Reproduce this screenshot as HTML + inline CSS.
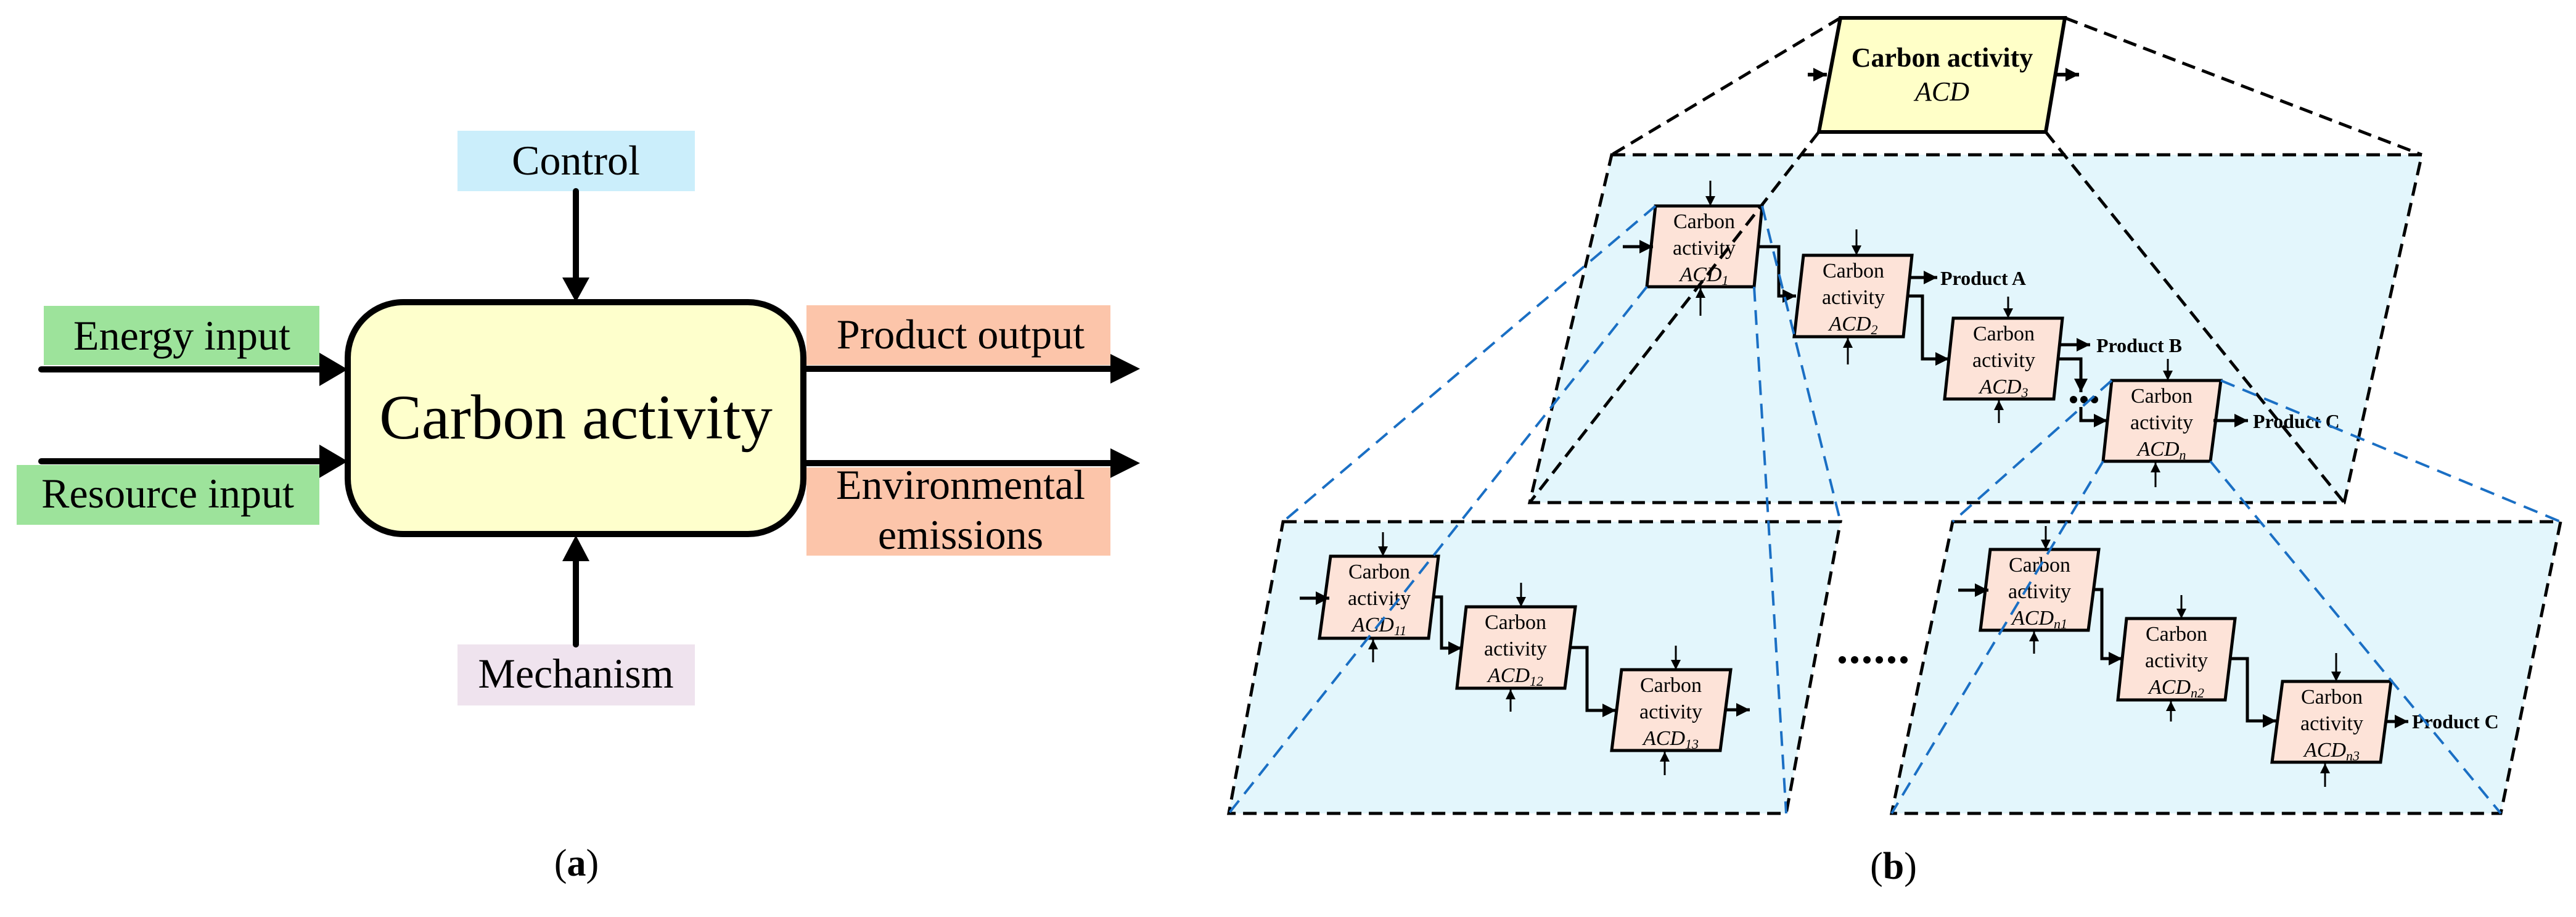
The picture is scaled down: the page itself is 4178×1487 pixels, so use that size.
<!DOCTYPE html>
<html><head><meta charset="utf-8"><style>html,body{margin:0;padding:0;background:#fff}svg{display:block}</style></head>
<body>
<svg width="4178" height="1487" viewBox="0 0 4178 1487" xmlns="http://www.w3.org/2000/svg" font-family="'Liberation Serif', serif">
<defs>
<marker id="s" viewBox="0 0 10 10" refX="10" refY="5" markerWidth="20" markerHeight="16" markerUnits="userSpaceOnUse" orient="auto"><path d="M0,0L10,5L0,10z" fill="#000"/></marker>
<marker id="b" viewBox="0 0 10 10" refX="10" refY="5" markerWidth="22" markerHeight="28" markerUnits="userSpaceOnUse" orient="auto"><path d="M0,0L10,5L0,10z" fill="#000"/></marker>
</defs>

<!-- Panel (a) -->
<rect x="742" y="212" width="385" height="98" fill="#cbeefb"/>
<text x="934" y="283" font-size="68" text-anchor="middle">Control</text>
<rect x="71" y="496" width="447" height="96" fill="#9de39b"/>
<text x="295" y="567" font-size="68" text-anchor="middle">Energy input</text>
<rect x="27" y="754" width="491" height="97" fill="#9de39b"/>
<text x="272" y="823" font-size="68" text-anchor="middle">Resource input</text>
<rect x="1308" y="495" width="493" height="97" fill="#fcc5aa"/>
<text x="1558" y="565" font-size="68" text-anchor="middle">Product output</text>
<rect x="1308" y="758" width="493" height="143" fill="#fcc5aa"/>
<text x="1558" y="809" font-size="68" text-anchor="middle">Environmental</text>
<text x="1558" y="890" font-size="68" text-anchor="middle">emissions</text>
<rect x="742" y="1045" width="385" height="99" fill="#efe3ee"/>
<text x="934" y="1115" font-size="68" text-anchor="middle">Mechanism</text>
<rect x="564" y="490" width="739" height="376" rx="90" ry="90" fill="#feffcc" stroke="#000" stroke-width="10"/>
<text x="934" y="711" font-size="103" text-anchor="middle">Carbon activity</text>
<g stroke="#000" stroke-width="10" stroke-linecap="round">
<line x1="67" y1="599" x2="522" y2="599"/>
<line x1="67" y1="748" x2="522" y2="748"/>
<line x1="1303" y1="598" x2="1805" y2="598"/>
<line x1="1303" y1="751" x2="1805" y2="751"/>
<line x1="934" y1="310" x2="934" y2="450"/>
<line x1="934" y1="910" x2="934" y2="1045"/>
</g>
<g fill="#000">
<path d="M518,572L518,626L564,599z"/>
<path d="M518,721L518,775L564,748z"/>
<path d="M1801,574L1801,622L1849,598z"/>
<path d="M1801,727L1801,775L1849,751z"/>
<path d="M912,450L956,450L934,490z"/>
<path d="M912,910L956,910L934,868z"/>
</g>
<text x="935" y="1420" font-size="62" text-anchor="middle">(<tspan font-weight="bold">a</tspan>)</text>

<!-- Panel (b) -->
<g stroke="#000" stroke-width="5" stroke-dasharray="22,12">
<polygon points="2614,251 3928,251 3802,815 2481,815" fill="#e3f6fc"/>
<polygon points="2081,846 2985,846 2897,1319 1993,1319" fill="#e3f6fc"/>
<polygon points="3167,846 4153,846 4056,1319 3068,1319" fill="#e3f6fc"/>
</g>

<!-- top ACD -->
<polygon points="2985,29 3349,29 3318,214 2950,214" fill="#ffffc8" stroke="#000" stroke-width="6"/>
<text x="3150" y="108" font-size="44" font-weight="bold" text-anchor="middle">Carbon activity</text>
<text x="3150" y="163" font-size="44" font-style="italic" text-anchor="middle">ACD</text>
<g stroke="#000" stroke-width="6" fill="none" marker-end="url(#b)">
<line x1="2932" y1="121" x2="2963" y2="121"/>
<line x1="3333" y1="121" x2="3372" y2="121"/>
</g>

<!-- blocks -->
<g fill="#fde3d8" stroke="#000" stroke-width="5">
<polygon points="2685,334 2858,334 2845,465 2671,465"/>
<polygon points="2925,414 3101,414 3087,546 2910,546"/>
<polygon points="3168,516 3345,516 3331,647 3154,647"/>
<polygon points="3425,617 3602,617 3585,748 3411,748"/>
<polygon points="2158,902 2333,902 2317,1035 2140,1035"/>
<polygon points="2378,984 2555,984 2538,1116 2363,1116"/>
<polygon points="2630,1086 2807,1086 2790,1217 2614,1217"/>
<polygon points="3228,891 3404,891 3387,1022 3212,1022"/>
<polygon points="3449,1003 3625,1003 3609,1135 3435,1135"/>
<polygon points="3702,1105 3878,1105 3861,1236 3685,1236"/>
</g>
<g font-size="34" text-anchor="middle">
<text x="2764" y="370">Carbon</text><text x="2764" y="413">activity</text><text x="2764" y="456" font-style="italic">ACD<tspan font-size="22" dy="6">1</tspan></text>
<text x="3006" y="450">Carbon</text><text x="3006" y="493">activity</text><text x="3006" y="536" font-style="italic">ACD<tspan font-size="22" dy="6">2</tspan></text>
<text x="3250" y="552">Carbon</text><text x="3250" y="595">activity</text><text x="3250" y="638" font-style="italic">ACD<tspan font-size="22" dy="6">3</tspan></text>
<text x="3506" y="653">Carbon</text><text x="3506" y="696">activity</text><text x="3506" y="739" font-style="italic">ACD<tspan font-size="22" dy="6">n</tspan></text>
<text x="2237" y="938">Carbon</text><text x="2237" y="981">activity</text><text x="2237" y="1024" font-style="italic">ACD<tspan font-size="22" dy="6">11</tspan></text>
<text x="2458" y="1020">Carbon</text><text x="2458" y="1063">activity</text><text x="2458" y="1106" font-style="italic">ACD<tspan font-size="22" dy="6">12</tspan></text>
<text x="2710" y="1122">Carbon</text><text x="2710" y="1165">activity</text><text x="2710" y="1208" font-style="italic">ACD<tspan font-size="22" dy="6">13</tspan></text>
<text x="3308" y="927">Carbon</text><text x="3308" y="970">activity</text><text x="3308" y="1013" font-style="italic">ACD<tspan font-size="22" dy="6">n1</tspan></text>
<text x="3530" y="1039">Carbon</text><text x="3530" y="1082">activity</text><text x="3530" y="1125" font-style="italic">ACD<tspan font-size="22" dy="6">n2</tspan></text>
<text x="3782" y="1141">Carbon</text><text x="3782" y="1184">activity</text><text x="3782" y="1227" font-style="italic">ACD<tspan font-size="22" dy="6">n3</tspan></text>
</g>
<g font-size="32" font-weight="bold">
<text x="3147" y="462">Product A</text>
<text x="3400" y="571">Product B</text>
<text x="3654" y="694">Product C</text>
<text x="3912" y="1181">Product C</text>
</g>

<!-- thin vertical arrows -->
<g stroke="#000" stroke-width="3" marker-end="url(#s)">
<line x1="2774" y1="293" x2="2774" y2="334"/><line x1="2758" y1="512" x2="2758" y2="467"/>
<line x1="3011" y1="372" x2="3011" y2="414"/><line x1="2997" y1="591" x2="2997" y2="548"/>
<line x1="3257" y1="481" x2="3257" y2="516"/><line x1="3242" y1="686" x2="3242" y2="649"/>
<line x1="3516" y1="582" x2="3516" y2="617"/><line x1="3496" y1="790" x2="3496" y2="750"/>
<line x1="2243" y1="863" x2="2243" y2="902"/><line x1="2227" y1="1074" x2="2227" y2="1037"/>
<line x1="2467" y1="945" x2="2467" y2="984"/><line x1="2450" y1="1154" x2="2450" y2="1118"/>
<line x1="2718" y1="1047" x2="2718" y2="1086"/><line x1="2700" y1="1257" x2="2700" y2="1219"/>
<line x1="3318" y1="853" x2="3318" y2="891"/><line x1="3299" y1="1060" x2="3299" y2="1024"/>
<line x1="3538" y1="965" x2="3538" y2="1003"/><line x1="3521" y1="1170" x2="3521" y2="1137"/>
<line x1="3789" y1="1059" x2="3789" y2="1105"/><line x1="3771" y1="1276" x2="3771" y2="1238"/>
</g>

<!-- connectors -->
<g stroke="#000" stroke-width="5" fill="none" marker-end="url(#b)">
<line x1="2632" y1="400" x2="2681" y2="400"/>
<polyline points="2852,400 2885,400 2885,480 2913,480"/>
<line x1="3098" y1="450" x2="3142" y2="450"/>
<polyline points="3094,480 3118,480 3118,582 3161,582"/>
<line x1="3340" y1="559" x2="3390" y2="559"/>
<polyline points="3338,582 3375,582 3375,636"/>
<polyline points="3375,660 3375,682 3418,682"/>
<line x1="3590" y1="682" x2="3646" y2="682"/>
<line x1="2108" y1="970" x2="2156" y2="970"/>
<polyline points="2325,968 2338,968 2338,1051 2371,1051"/>
<polyline points="2547,1050 2574,1050 2574,1152 2621,1152"/>
<line x1="2798" y1="1151" x2="2838" y2="1151"/>
<line x1="3176" y1="957" x2="3225" y2="957"/>
<polyline points="3396,956 3409,956 3409,1068 3442,1068"/>
<polyline points="3617,1068 3645,1068 3645,1169 3692,1169"/>
<line x1="3868" y1="1170" x2="3906" y2="1170"/>
</g>
<g fill="#000">
<circle cx="3363" cy="648" r="6"/><circle cx="3380" cy="648" r="6"/><circle cx="3397" cy="648" r="6"/>
<circle cx="2988" cy="1070" r="6"/><circle cx="3008" cy="1070" r="6"/><circle cx="3028" cy="1070" r="6"/><circle cx="3048" cy="1070" r="6"/><circle cx="3068" cy="1070" r="6"/><circle cx="3088" cy="1070" r="6"/>
</g>

<!-- black dashed projection lines -->
<g stroke="#000" stroke-width="5" stroke-dasharray="22,12" fill="none">
<line x1="2985" y1="29" x2="2614" y2="251"/>
<line x1="3349" y1="29" x2="3928" y2="251"/>
<line x1="2950" y1="214" x2="2481" y2="815"/>
<line x1="3318" y1="214" x2="3802" y2="815"/>
</g>
<!-- blue dashed projection lines -->
<g stroke="#1a6fc4" stroke-width="4" stroke-dasharray="24,14" fill="none">
<line x1="2685" y1="334" x2="2081" y2="846"/>
<line x1="2858" y1="334" x2="2985" y2="846"/>
<line x1="2671" y1="465" x2="1993" y2="1319"/>
<line x1="2845" y1="465" x2="2897" y2="1319"/>
<line x1="3425" y1="617" x2="3167" y2="846"/>
<line x1="3602" y1="617" x2="4153" y2="846"/>
<line x1="3411" y1="748" x2="3068" y2="1319"/>
<line x1="3585" y1="748" x2="4056" y2="1319"/>
</g>

<text x="3071" y="1425" font-size="62" text-anchor="middle">(<tspan font-weight="bold">b</tspan>)</text>
</svg>
</body></html>
